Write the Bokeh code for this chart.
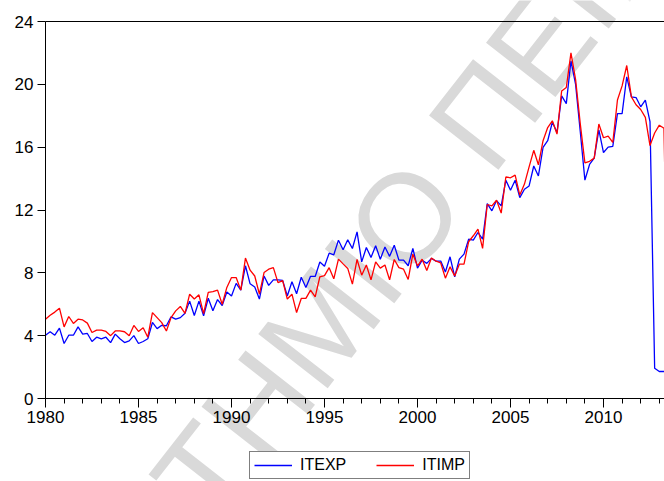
import numpy as np
from bokeh.plotting import figure
from bokeh.models import (Range1d, LinearAxis, SingleIntervalTicker, FixedTicker,
                          Legend, LegendItem, Label)
from bokeh.embed import file_html
from bokeh.resources import INLINE

# Quarterly series starting 1980Q1
start_year = 1980

itexp = [4.03, 4.25, 4.03, 4.48, 3.5, 4.03, 4.03, 4.56, 4.1, 4.14,
         3.63, 3.9, 3.8, 3.9, 3.56, 4.1, 3.8, 3.56, 3.67, 4.0,
         3.5, 3.63, 3.8, 4.84, 4.45, 4.66, 4.63, 5.2, 5.05, 5.15,
         5.43, 6.2, 5.28, 6.2, 5.26, 6.38, 5.58, 6.3, 5.92, 6.78,
         6.52, 7.33, 6.9, 8.45, 7.3, 7.1, 6.33, 7.8, 7.2, 7.55,
         7.55, 7.52, 6.53, 7.43, 6.67, 7.72, 7.07, 7.78, 7.77, 8.69,
         8.42, 9.25, 9.15, 10.08, 9.47, 10.1, 9.55, 10.61, 8.7, 9.61,
         8.98, 9.72, 8.87, 9.64, 9.05, 9.76, 8.81, 8.81, 8.45, 9.56,
         8.3, 8.8, 8.6, 8.92, 8.74, 8.75, 8.05, 9.02, 7.75, 8.87,
         9.19, 10.14, 10.08, 10.57, 10.14, 12.41, 11.95, 12.6, 12.26, 13.9,
         13.26, 13.9, 12.79, 13.32, 13.53, 14.8, 14.17, 15.98, 16.41, 17.6,
         16.93, 19.26, 18.77, 21.5, 20.0, 17.0, 13.9, 14.9, 15.3, 17.1,
         15.66, 16.0, 16.05, 18.14, 18.14, 20.48, 19.2, 19.16, 18.57, 19.0,
         17.63, 1.93, 1.72, 1.72, 1.72]

itimp = [5.05, 5.3, 5.5, 5.75, 4.56, 5.22, 4.78, 5.05, 5.0, 4.8,
         4.2, 4.35, 4.35, 4.27, 4.0, 4.3, 4.3, 4.25, 4.0, 4.65,
         4.27, 4.5, 3.9, 5.47, 5.15, 4.83, 4.3, 5.15, 5.58, 5.86,
         5.42, 6.64, 6.33, 6.6, 5.4, 6.75, 6.8, 6.9, 6.0, 7.07,
         7.7, 7.7, 6.9, 8.94, 8.17, 7.8, 6.64, 8.02, 8.23, 8.33,
         7.38, 7.5, 6.33, 6.64, 5.47, 6.37, 6.37, 6.9, 6.47, 7.75,
         7.82, 8.33, 7.62, 8.87, 8.57, 8.28, 7.28, 8.85, 7.85, 8.5,
         7.55, 8.7, 8.3, 8.5, 7.55, 8.85, 8.33, 8.23, 7.58, 9.19,
         8.45, 8.87, 8.15, 8.95, 8.74, 8.63, 7.66, 8.38, 7.8, 8.55,
         8.55, 9.98, 10.36, 10.78, 9.56, 12.35, 12.26, 12.62, 11.8, 14.1,
         14.05, 14.22, 12.95, 13.65, 14.75, 15.8, 14.88, 16.41, 17.25, 17.68,
         16.83, 19.58, 19.8, 22.0, 20.3, 17.5, 15.0, 15.1, 15.3, 17.47,
         16.6, 16.7, 16.3, 19.0, 19.9, 21.2, 19.2, 18.7, 18.4, 17.9,
         16.1, 16.9, 17.4, 17.2, 2.0]

y_ticks = [0, 4, 8, 12, 16, 20, 24]
y_min, y_max = 0, 24

quarters = start_year + np.arange(len(itexp)) / 4.0

FONT = "Liberation Sans"
W, H = 664, 481

# The frame covers the whole page; the axes are pinned inside it so that the
# tick labels, legend and watermark can all sit around the plotting box.
px_per_unit = 377 / 24.0          # box: 21 px from top, 83 px above bottom
px_per_year = 18.6                # box: 45 px from left
x_start = start_year - 45 / px_per_year
x_end = x_start + W / px_per_year
y_lo = y_min - 83 / px_per_unit
y_hi = y_max + 21 / px_per_unit

p = figure(width=W, height=H, output_backend="svg", toolbar_location=None,
           x_range=Range1d(x_start, x_end), y_range=Range1d(y_lo, y_hi),
           min_border=0, background_fill_color="white",
           border_fill_color="white")
p.grid.visible = False
p.outline_line_color = None

# Watermark text, diagonal, under everything else
angle = np.deg2rad(52)
em = 128.0
o_year, o_val = 1999.30, 11.50
ux, uy = np.cos(angle) / px_per_year, np.sin(angle) / px_per_unit
d1 = 0.389 * em
d2 = d1 + 0.278 * em
for txt, d, align in [("ΠΑΝΕΠΙΣΤΗΜΙΟ", d1, "right"), ("ΠΕΙΡΑΙΩΣ", d2, "left")]:
    p.add_layout(Label(x=o_year + ux * d, y=o_val + uy * d, text=txt,
                       angle=angle, angle_units="rad",
                       text_font=FONT, text_font_size=f"{em:.0f}px",
                       text_color="#d9d9d9", text_align=align,
                       text_baseline="middle", level="underlay"))

r_exp = p.line(quarters, itexp, line_color="#0000ff", line_width=1.3)
r_imp = p.line(quarters, itimp, line_color="#ff0000", line_width=1.3)

xa = p.xaxis[0]
xa.fixed_location = y_min
xa.bounds = (start_year, x_end + 1)
xa.ticker = SingleIntervalTicker(interval=5, num_minor_ticks=5)
xa.major_tick_in = 0
xa.major_tick_out = 9
xa.minor_tick_in = 0
xa.minor_tick_out = 5
xa.axis_line_color = "black"
xa.major_tick_line_color = "black"
xa.minor_tick_line_color = "black"
xa.major_label_text_font = FONT
xa.major_label_text_font_size = "17px"
xa.major_label_text_color = "black"
xa.major_label_standoff = 3

ya = p.yaxis[0]
ya.fixed_location = start_year
ya.bounds = (y_min, y_max)
ya.ticker = FixedTicker(ticks=y_ticks)
ya.major_tick_in = 0
ya.major_tick_out = 8
ya.minor_tick_line_color = None
ya.axis_line_color = "black"
ya.major_tick_line_color = "black"
ya.major_label_text_font = FONT
ya.major_label_text_font_size = "17px"
ya.major_label_text_color = "black"
ya.major_label_standoff = 4

# top edge of the plotting box
top = LinearAxis(fixed_location=y_max, bounds=(start_year, x_end + 1),
                 ticker=FixedTicker(ticks=[]), axis_line_color="black",
                 axis_line_width=1.2, major_tick_line_color=None,
                 minor_tick_line_color=None, major_label_text_font_size="0px")
p.add_layout(top, "above")

legend = Legend(items=[LegendItem(label="ITEXP", renderers=[r_exp]),
                       LegendItem(label="ITIMP", renderers=[r_imp])],
                orientation="horizontal", location=(249, 2), margin=0,
                border_line_color="black", border_line_width=1,
                background_fill_color="white", background_fill_alpha=1.0,
                glyph_width=38, glyph_height=12, label_height=12,
                padding=4, spacing=30, label_standoff=8,
                label_text_font=FONT, label_text_font_size="16px",
                label_text_color="black")
p.add_layout(legend, "center")

open("out.html", "w").write(file_html(p, INLINE))
